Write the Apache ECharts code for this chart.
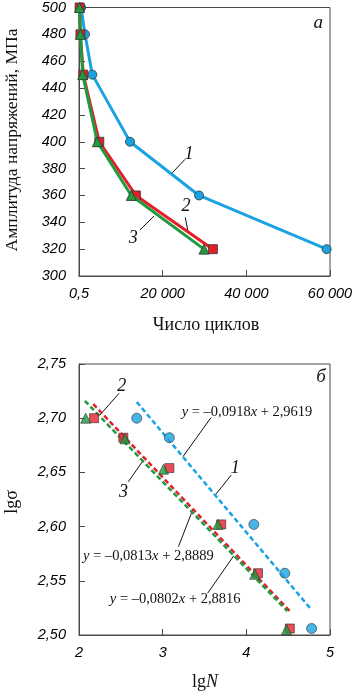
<!DOCTYPE html>
<html><head><meta charset="utf-8">
<script src="https://cdn.jsdelivr.net/npm/echarts@6/dist/echarts.min.js"></script>
<style>html,body{margin:0;padding:0;background:#fff}#c{width:356px;height:694px}</style>
</head><body><div id="c"></div>
<script>
// ---- panel a: stress amplitude vs number of cycles ----
const stressLevels = [500, 480, 450, 400, 360, 320];
const cycles1 = [490, 1430, 3180, 12190, 28690, 59200];
const cycles2 = [150, 340, 1030, 4850, 13600, 32000];
const cycles3 = [110, 330, 885, 4370, 12500, 29880];
const xTicksTop = [0, 20000, 40000, 60000];
const xTickLabelsTop = ['0,5', '20 000', '40 000', '60 000'];

// ---- panel б: lgσ vs lgN ----
const lgN1 = [2.69, 3.08, 4.09, 4.46, 4.78];
const lgS1 = [2.700, 2.682, 2.602, 2.557, 2.506];
const lgN2 = [2.18, 2.53, 3.08, 3.70, 4.14, 4.52];
const lgS2 = [2.700, 2.682, 2.654, 2.602, 2.557, 2.506];
const lgN3 = [2.08, 2.55, 3.01, 3.66, 4.10, 4.48];
const lgS3 = [2.700, 2.681, 2.653, 2.602, 2.556, 2.505];
const fitX1 = [2.69, 4.76], fitY1 = [2.715, 2.525];
const fitX2 = [2.17, 4.52], fitY2 = [2.713, 2.522];
const fitX3 = [2.07, 4.49], fitY3 = [2.716, 2.522];
const eq1 = ['–0,0918', '2,9619'];
const eq2 = ['–0,0813', '2,8889'];
const eq3 = ['–0,0802', '2,8816'];

const BLUE = '#1aa3e3', RED = '#e3202a', GREEN = '#1f9a3e', AX = '#4a4a4a';
const zip = (a, b) => a.map((v, i) => [v, b[i]]);

const chart = echarts.init(document.getElementById('c'), null, {renderer: 'canvas'});
const tickFont = {fontFamily: '"Liberation Sans", Arial, sans-serif', fontStyle: 'italic', fontSize: 14.5, color: '#000'};
function axisCommon() {
  return {
    axisLine: {show: true, lineStyle: {color: AX, width: 1}},
    axisTick: {show: true, inside: true, length: 6, lineStyle: {color: AX}},
    splitLine: {show: false}
  };
}
const mk = {borderColor: '#333', borderWidth: 0.8};

chart.setOption({
  animation: false,
  grid: [
    {left: 79, top: 7, width: 251, height: 269, show: true, borderColor: AX, borderWidth: 1},
    {left: 79, top: 364, width: 251, height: 271, show: true, borderColor: AX, borderWidth: 1}
  ],
  xAxis: [
    Object.assign(axisCommon(), {gridIndex: 0, type: 'value', min: 0, max: 60000, interval: 20000,
      axisLabel: Object.assign({}, tickFont, {margin: 10,
        formatter: v => { const i = xTicksTop.indexOf(v); return i >= 0 ? xTickLabelsTop[i] : ''; }})}),
    Object.assign(axisCommon(), {gridIndex: 1, type: 'value', min: 2, max: 5, interval: 1,
      axisLabel: Object.assign({}, tickFont, {margin: 10, formatter: v => String(v)})})
  ],
  yAxis: [
    Object.assign(axisCommon(), {gridIndex: 0, type: 'value', min: 300, max: 500, interval: 20,
      axisLabel: Object.assign({}, tickFont, {margin: 13})}),
    Object.assign(axisCommon(), {gridIndex: 1, type: 'value', min: 2.5, max: 2.75, interval: 0.05,
      axisLabel: Object.assign({}, tickFont, {margin: 13, formatter: v => v.toFixed(2).replace('.', ',')})})
  ],
  series: [
    {type: 'line', xAxisIndex: 0, yAxisIndex: 0, data: zip(cycles1, stressLevels), symbol: 'circle', symbolSize: 9,
      lineStyle: {color: BLUE, width: 3}, itemStyle: Object.assign({color: BLUE}, mk), z: 2},
    {type: 'line', xAxisIndex: 0, yAxisIndex: 0, data: zip(cycles2, stressLevels), symbol: 'rect', symbolSize: 9,
      lineStyle: {color: RED, width: 3}, itemStyle: Object.assign({color: RED}, mk), z: 3},
    {type: 'line', xAxisIndex: 0, yAxisIndex: 0, data: zip(cycles3, stressLevels), symbol: 'triangle', symbolSize: 10,
      lineStyle: {color: GREEN, width: 3}, itemStyle: Object.assign({color: GREEN}, mk), z: 4},

    {type: 'line', xAxisIndex: 1, yAxisIndex: 1, data: zip(fitX1, fitY1), symbol: 'none',
      lineStyle: {color: BLUE, width: 2.5, type: [5, 3]}, z: 2},
    {type: 'line', xAxisIndex: 1, yAxisIndex: 1, data: zip(fitX2, fitY2), symbol: 'none',
      lineStyle: {color: RED, width: 2.5, type: [5, 3]}, z: 2},
    {type: 'line', xAxisIndex: 1, yAxisIndex: 1, data: zip(fitX3, fitY3), symbol: 'none',
      lineStyle: {color: GREEN, width: 2.5, type: [5, 3]}, z: 2},
    {type: 'scatter', xAxisIndex: 1, yAxisIndex: 1, data: zip(lgN1, lgS1), symbol: 'circle', symbolSize: 10,
      itemStyle: Object.assign({color: BLUE}, mk), z: 3},
    {type: 'scatter', xAxisIndex: 1, yAxisIndex: 1, data: zip(lgN2, lgS2), symbol: 'rect', symbolSize: 9,
      itemStyle: Object.assign({color: RED}, mk), z: 4},
    {type: 'scatter', xAxisIndex: 1, yAxisIndex: 1, data: zip(lgN3, lgS3), symbol: 'triangle', symbolSize: 10,
      itemStyle: Object.assign({color: GREEN}, mk), z: 5}
  ]
});

// annotations placed in data coordinates
const annTop = {
  labels: [['1', 26300, 390.7], ['2', 25580, 351.6], ['3', 12980, 328.1]],
  leaders: [[22160, 376.4, 25340, 386.9], [25410, 343.7, 26130, 331.8], [14580, 334.3, 17930, 344.7]],
  panel: ['а', 57200, 488.1]
};
const annBot = {
  labels: [['2', 2.511, 2.7297], ['3', 2.531, 2.632], ['1', 3.868, 2.6538]],
  leaders: [[2.479, 2.723, 2.251, 2.703], [2.590, 2.6414, 2.770, 2.6614], [3.820, 2.6476, 3.629, 2.6292],
            [3.577, 2.7005, 3.242, 2.6645], [3.189, 2.5815, 3.362, 2.616], [3.537, 2.5385, 3.848, 2.5729]],
  eqs: [[eq1, 4.008, 2.706], [eq2, 2.830, 2.5729], [eq3, 3.150, 2.5329]],
  panel: ['б', 4.894, 2.7377]
};
const SERIF = '"Liberation Serif", "DejaVu Serif", serif';
const g = [];
function px(gi, x, y) { return chart.convertToPixel({gridIndex: gi}, [x, y]); }
function addAnn(gi, a) {
  a.labels.forEach(([t, x, y]) => { const p = px(gi, x, y);
    g.push({type: 'text', x: p[0], y: p[1], style: {text: t, font: 'italic 18px ' + SERIF, fill: '#111', align: 'center', verticalAlign: 'middle'}}); });
  a.leaders.forEach(([x1, y1, x2, y2]) => { const p = px(gi, x1, y1), q = px(gi, x2, y2);
    g.push({type: 'line', shape: {x1: p[0], y1: p[1], x2: q[0], y2: q[1]}, style: {stroke: '#111', lineWidth: 1}}); });
  const p = px(gi, a.panel[1], a.panel[2]);
  g.push({type: 'text', x: p[0], y: p[1], style: {text: a.panel[0], font: 'italic 19px ' + SERIF, fill: '#111', align: 'center', verticalAlign: 'middle'}});
  (a.eqs || []).forEach(([e, x, y]) => { const p = px(gi, x, y);
    g.push({type: 'text', x: p[0], y: p[1], style: {text: '{i|y} = ' + e[0] + '{i|x} + ' + e[1],
      fontFamily: SERIF, fontSize: 14.5, fill: '#111', align: 'center', verticalAlign: 'middle',
      rich: {i: {fontStyle: 'italic', fontFamily: SERIF, fontSize: 14.5}}}}); });
}
addAnn(0, annTop);
addAnn(1, annBot);
// axis titles
g.push({type: 'text', x: 12, y: 140, rotation: Math.PI / 2, style: {text: 'Амплитуда напряжений, МПа', font: '17.5px ' + SERIF, fill: '#111', align: 'center', verticalAlign: 'middle'}});
g.push({type: 'text', x: 206, y: 325, style: {text: 'Число циклов', font: '18px ' + SERIF, fill: '#111', align: 'center', verticalAlign: 'middle'}});
g.push({type: 'text', x: 12, y: 502, rotation: Math.PI / 2, style: {text: 'lgσ', font: '18px ' + SERIF, fill: '#111', align: 'center', verticalAlign: 'middle'}});
g.push({type: 'text', x: 205, y: 682, style: {text: 'lg{i|N}', fontFamily: SERIF, fontSize: 18, fill: '#111', align: 'center', verticalAlign: 'middle',
  rich: {i: {fontStyle: 'italic', fontFamily: SERIF, fontSize: 18}}}});
chart.setOption({graphic: g});
</script></body></html>
